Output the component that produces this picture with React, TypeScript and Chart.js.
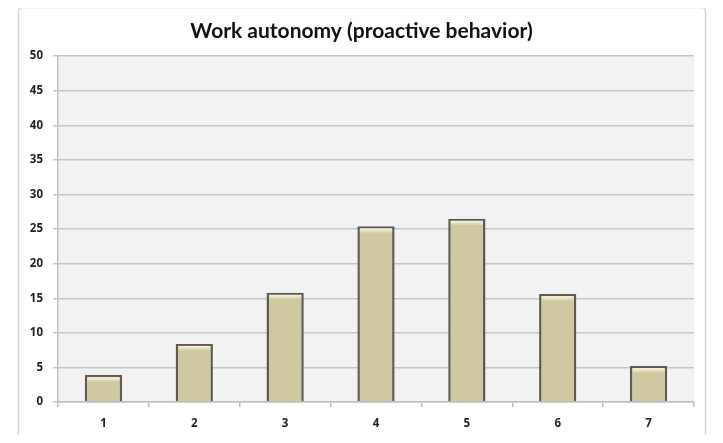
import React, { useEffect, useRef } from "react";
import { Chart, registerables } from "chart.js";

Chart.register(...registerables);

const categories = ["1", "2", "3", "4", "5", "6", "7"];
const values = [3.9, 8.4, 15.8, 25.4, 26.5, 15.6, 5.2];
const yTicks = [0, 5, 10, 15, 20, 25, 30, 35, 40, 45, 50];
const titleText = "Work autonomy (proactive behavior)";

const W = 723;
const H = 443;

// Frame, plot background and the bar highlights
const decorPlugin = {
  id: "decor",
  beforeDraw(chart: any) {
    const { ctx, chartArea } = chart;
    ctx.save();
    ctx.fillStyle = "#ffffff";
    ctx.fillRect(0, 0, W, H);
    ctx.strokeStyle = "#d4d4d4";
    ctx.lineWidth = 1.5;
    ctx.beginPath();
    ctx.roundRect(18.5, 7.5, 687, H + 10, 4);
    ctx.stroke();
    ctx.fillStyle = "#f2f2f2";
    ctx.fillRect(
      chartArea.left,
      chartArea.top,
      chartArea.right - chartArea.left,
      chartArea.bottom - chartArea.top
    );
    ctx.restore();
  },
  afterDatasetsDraw(chart: any) {
    const { ctx } = chart;
    const meta = chart.getDatasetMeta(0);
    ctx.save();
    meta.data.forEach((bar: any) => {
      const half = bar.width / 2;
      const x0 = bar.x - half + 2.5;
      const w = bar.width - 5;
      const g = ctx.createLinearGradient(0, bar.y + 2, 0, bar.y + 7);
      g.addColorStop(0, "rgba(252,249,228,0.95)");
      g.addColorStop(1, "rgba(252,249,228,0)");
      ctx.fillStyle = g;
      ctx.fillRect(x0, bar.y + 2, w, 5);
    });
    ctx.restore();
  },
};

const tickFont = { family: "Open Sans", size: 11.5, weight: "bold" as const };

export default function App() {
  const ref = useRef<HTMLCanvasElement | null>(null);

  useEffect(() => {
    if (!ref.current) return;
    const chart = new Chart(ref.current, {
      type: "bar",
      data: {
        labels: categories,
        datasets: [
          {
            data: values,
            backgroundColor: "#d0c9a0",
            borderColor: "#5c5c54",
            borderWidth: 2.5,
            categoryPercentage: 1,
            barPercentage: 0.41,
          },
        ],
      },
      options: {
        responsive: false,
        animation: false,
        events: [],
        layout: { padding: { left: 29, right: 29, top: 0, bottom: 0 } },
        plugins: {
          legend: { display: false },
          tooltip: { enabled: false },
          title: {
            display: true,
            text: titleText,
            color: "#111111",
            font: { family: "Lato", size: 21, weight: "bold" },
            padding: { top: 19, bottom: 12 },
          },
        },
        scales: {
          x: {
            grid: {
              display: true,
              drawOnChartArea: false,
              drawTicks: true,
              tickLength: 5,
              color: "#bdbdbd",
              lineWidth: 1.5,
              offset: true,
            },
            border: { color: "#bdbdbd", width: 1.5 },
            ticks: {
              color: "#1f1f1f",
              font: tickFont,
              padding: 10,
            },
            afterFit(s: any) {
              s.height = 41;
            },
          },
          y: {
            min: 0,
            max: 50,
            afterBuildTicks(s: any) {
              s.ticks = yTicks.map((v) => ({ value: v }));
            },
            grid: {
              color: "#c6c6c6",
              lineWidth: 1.5,
              tickLength: 5,
            },
            border: { color: "#bdbdbd", width: 1.5 },
            ticks: {
              color: "#1f1f1f",
              font: tickFont,
              padding: 10,
            },
            afterFit(s: any) {
              s.width = 29;
            },
          },
        },
      },
      plugins: [decorPlugin],
    });
    return () => chart.destroy();
  }, []);

  return (
    <div style={{ margin: "-8px", width: W, height: H, overflow: "hidden" }}>
      <canvas ref={ref} width={W} height={H} style={{ display: "block" }} />
    </div>
  );
}
